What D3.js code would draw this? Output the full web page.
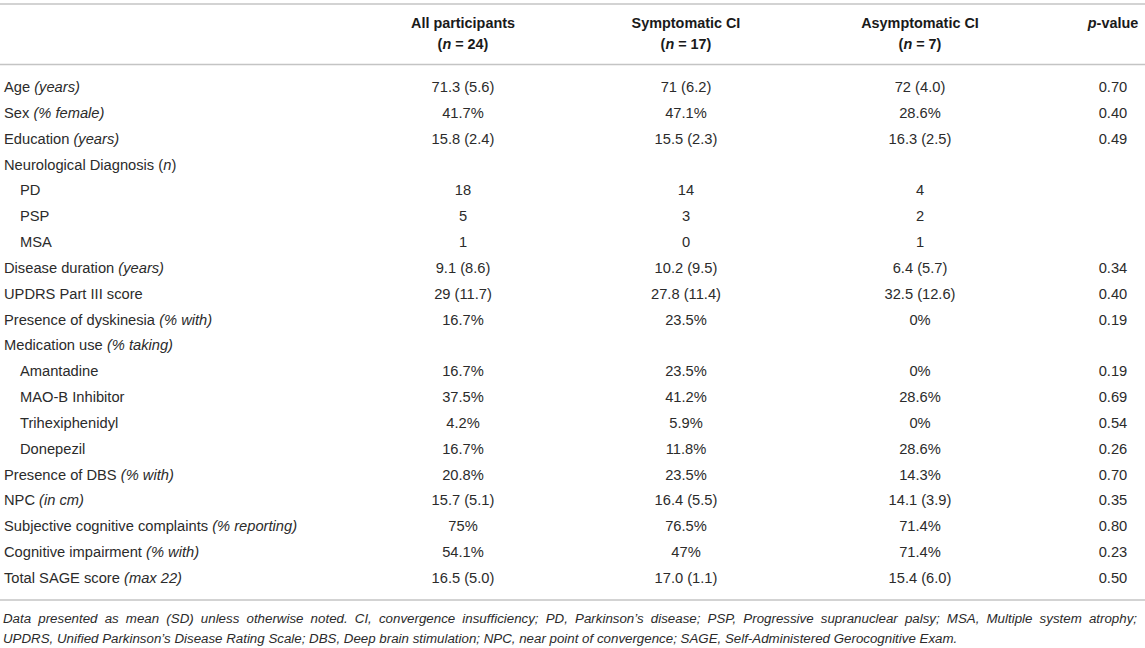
<!DOCTYPE html>
<html>
<head>
<meta charset="utf-8">
<script src="https://cdn.jsdelivr.net/npm/d3@7"></script>
<style>
  html, body { margin: 0; padding: 0; background: #fff; }
  text { font-family: "Liberation Sans", Arial, sans-serif; }
</style>
</head>
<body>
<div id="table-1"></div>
<script>
// row labels, *...* marks the italic part
var labels = [
    "Age *(years)*",
    "Sex *(% female)*",
    "Education *(years)*",
    "Neurological Diagnosis (*n*)",
    "PD",
    "PSP",
    "MSA",
    "Disease duration *(years)*",
    "UPDRS Part III score",
    "Presence of dyskinesia *(% with)*",
    "Medication use *(% taking)*",
    "Amantadine",
    "MAO-B Inhibitor",
    "Trihexiphenidyl",
    "Donepezil",
    "Presence of DBS *(% with)*",
    "NPC *(in cm)*",
    "Subjective cognitive complaints *(% reporting)*",
    "Cognitive impairment *(% with)*",
    "Total SAGE score *(max 22)*"
];

var indented = [false, false, false, false, true, true, true, false, false, false,
                false, true, true, true, true, false, false, false, false, false];

var allParticipants = ["71.3 (5.6)", "41.7%", "15.8 (2.4)", "", "18", "5", "1", "9.1 (8.6)", "29 (11.7)", "16.7%",
                       "", "16.7%", "37.5%", "4.2%", "16.7%", "20.8%", "15.7 (5.1)", "75%", "54.1%", "16.5 (5.0)"];
var symptomatic = ["71 (6.2)", "47.1%", "15.5 (2.3)", "", "14", "3", "0", "10.2 (9.5)", "27.8 (11.4)", "23.5%",
                   "", "23.5%", "41.2%", "5.9%", "11.8%", "23.5%", "16.4 (5.5)", "76.5%", "47%", "17.0 (1.1)"];
var asymptomatic = ["72 (4.0)", "28.6%", "16.3 (2.5)", "", "4", "2", "1", "6.4 (5.7)", "32.5 (12.6)", "0%",
                    "", "0%", "28.6%", "0%", "28.6%", "14.3%", "14.1 (3.9)", "71.4%", "71.4%", "15.4 (6.0)"];
var pValues = ["0.70", "0.40", "0.49", "", "", "", "", "0.34", "0.40", "0.19",
               "", "0.19", "0.69", "0.54", "0.26", "0.70", "0.35", "0.80", "0.23", "0.50"];

var columnKeys = ["all", "sym", "asym", "p"];
var headerLine1 = ["All participants", "Symptomatic CI", "Asymptomatic CI", "*p*-value"];
var headerLine2 = ["(*n* = 24)", "(*n* = 17)", "(*n* = 7)", ""];

var footnotes = [
    "Data presented as mean (SD) unless otherwise noted. CI, convergence insufficiency; PD, Parkinson\u2019s disease; PSP, Progressive supranuclear palsy; MSA, Multiple system atrophy;",
    "UPDRS, Unified Parkinson\u2019s Disease Rating Scale; DBS, Deep brain stimulation; NPC, near point of convergence; SAGE, Self-Administered Gerocognitive Exam."
];

(function() {
    var width = 1145,
        height = 648;

    var svg = d3.select("#table-1")
        .append("svg")
        .attr("width", width)
        .attr("height", height)
        .append("g");

    var columns = [allParticipants, symptomatic, asymptomatic, pValues];

    var rows = labels.map(function(l, i) {
        return {
            label: l,
            indent: indented[i],
            cells: columns.map(function(c) { return c[i]; })
        };
    });

    var y = d3.scalePoint()
        .domain(d3.range(rows.length))
        .range([87, 578]);

    var x = d3.scaleOrdinal()
        .domain(columnKeys)
        .range([463, 686, 920, 1113]);

    var lineColor = "#c4c4c4",
        bodySize = 14.7,
        headSize = 14.4;

    // writes "plain *italic* plain" into a text element as tspans
    function richText(sel, str) {
        str.split("*").forEach(function(part, i) {
            if (part === "") return;
            sel.append("tspan")
                .style("font-style", i % 2 === 1 ? "italic" : null)
                .text(part);
        });
    }

    // rules
    [4, 64.5, 600].forEach(function(ly) {
        svg.append("line")
            .attr("x1", 0)
            .attr("x2", width)
            .attr("y1", ly)
            .attr("y2", ly)
            .attr("stroke", lineColor)
            .attr("stroke-width", 1.5);
    });

    // header
    var header = svg.selectAll(".header")
        .data(columnKeys)
        .enter().append("g")
        .attr("class", "header");

    header.append("text")
        .attr("x", function(d) { return x(d); })
        .attr("y", 23)
        .attr("text-anchor", "middle")
        .attr("dominant-baseline", "central")
        .attr("font-size", headSize)
        .attr("font-weight", "bold")
        .attr("fill", "#1a1a1a")
        .each(function(d, i) { richText(d3.select(this), headerLine1[i]); });

    header.append("text")
        .attr("x", function(d) { return x(d); })
        .attr("y", 44)
        .attr("text-anchor", "middle")
        .attr("dominant-baseline", "central")
        .attr("font-size", headSize)
        .attr("font-weight", "bold")
        .attr("fill", "#1a1a1a")
        .each(function(d, i) { richText(d3.select(this), headerLine2[i]); });

    // body rows
    var row = svg.selectAll(".row")
        .data(rows)
        .enter().append("g")
        .attr("class", "row")
        .attr("transform", function(d, i) { return "translate(0," + y(i) + ")"; });

    row.append("text")
        .attr("x", function(d) { return d.indent ? 20 : 4; })
        .attr("dominant-baseline", "central")
        .attr("font-size", bodySize)
        .attr("fill", "#2b2b2b")
        .each(function(d) { richText(d3.select(this), d.label); });

    row.selectAll(".cell")
        .data(function(d) { return d.cells; })
        .enter().append("text")
        .attr("class", "cell")
        .attr("x", function(d, i) { return x(columnKeys[i]); })
        .attr("text-anchor", "middle")
        .attr("dominant-baseline", "central")
        .attr("font-size", bodySize)
        .attr("fill", "#2b2b2b")
        .text(function(d) { return d; });

    // footnotes: justified paragraph, last line left at natural width
    var notes = svg.selectAll(".note")
        .data(footnotes)
        .enter().append("text")
        .attr("class", "note")
        .attr("x", 3)
        .attr("y", function(d, i) { return 618 + i * 20; })
        .attr("dominant-baseline", "central")
        .attr("font-size", 12.5)
        .attr("font-style", "italic")
        .attr("fill", "#2b2b2b")
        .text(function(d) { return d; });

    var lastLen = notes.nodes()[1].getComputedTextLength();
    notes.attr("font-size", 12.5 * 955 / lastLen);

    var first = notes.filter(function(d, i) { return i === 0; });
    var natural = first.node().getComputedTextLength(),
        gaps = footnotes[0].split(" ").length - 1;
    first.attr("word-spacing", Math.max(0, (1134 - natural) / gaps));
})();
</script>
</body>
</html>
